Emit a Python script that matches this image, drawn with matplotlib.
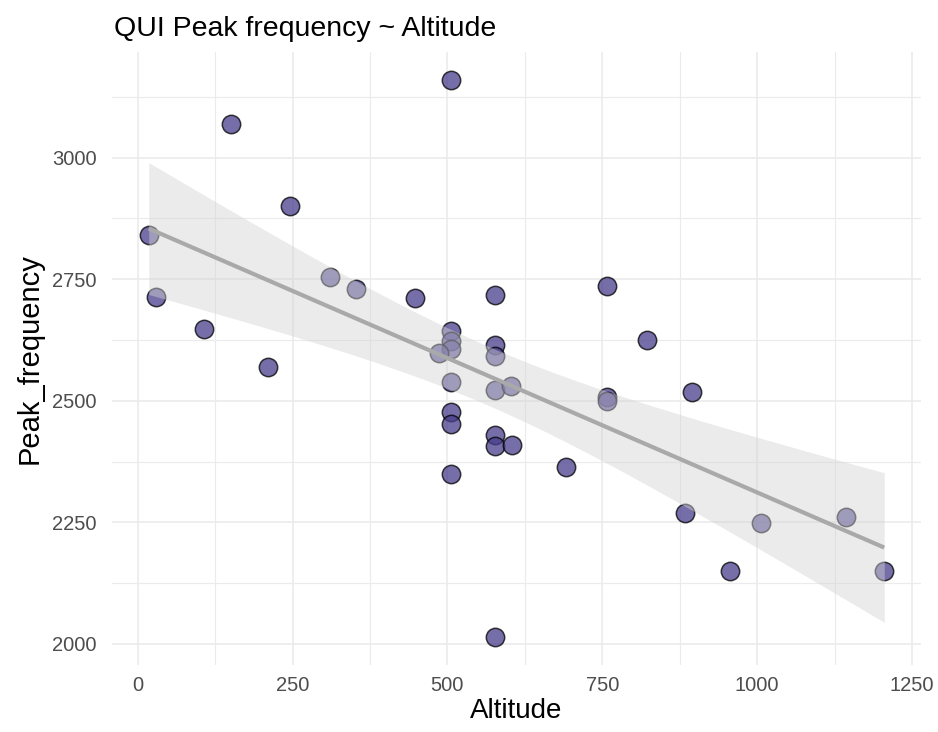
import numpy as np
import matplotlib
matplotlib.use("Agg")
import matplotlib.pyplot as plt
from matplotlib.ticker import MultipleLocator

# values
altitude = [505, 151, 246, 18, 29, 107, 211, 310, 352, 447,
            505, 505, 505, 486, 505, 505, 505, 505,
            576, 576, 576, 576, 603, 576, 576, 604, 576,
            691, 757, 757, 757, 822, 895, 884, 956, 1006, 1144, 1205]
peak_frequency = [3160, 3070, 2901, 2840, 2713, 2648, 2569, 2754, 2730, 2712,
                  2643, 2624, 2607, 2598, 2539, 2476, 2452, 2350,
                  2717, 2614, 2593, 2522, 2530, 2429, 2407, 2410, 2014,
                  2363, 2736, 2507, 2500, 2626, 2518, 2269, 2150, 2248, 2261, 2150]

title = "QUI Peak frequency ~ Altitude"
T_QUANTILE = 2.03  # 95% t value, df ~ 36

plt.rcParams['font.family'] = ['Liberation Sans', 'DejaVu Sans']

x = np.array(altitude, dtype=float)
y = np.array(peak_frequency, dtype=float)

# linear fit + confidence band (like geom_smooth(method="lm"))
slope, intercept = np.polyfit(x, y, 1)
n = len(x)
resid = y - (slope * x + intercept)
s = np.sqrt(np.sum(resid ** 2) / (n - 2))
sxx = np.sum((x - x.mean()) ** 2)
xs = np.linspace(x.min(), x.max(), 100)
ys = slope * xs + intercept
se = s * np.sqrt(1.0 / n + (xs - x.mean()) ** 2 / sxx)

W, H = 938, 732
fig = plt.figure(figsize=(W / 100, H / 100), dpi=100)
left, right, top, bottom = 112, 921, 52, 665
ax = fig.add_axes([left / W, 1 - bottom / H, (right - left) / W, (bottom - top) / H])

ax.scatter(x, y, s=175, c='#483D8B', edgecolors='black', linewidths=1.1,
           alpha=0.75, zorder=3)
ax.fill_between(xs, ys - T_QUANTILE * se, ys + T_QUANTILE * se,
                color='lightgrey', alpha=0.45, linewidth=0, zorder=4)
ax.plot(xs, ys, color='darkgrey', lw=3, zorder=5, solid_capstyle='butt')

# ggplot-like 5% expansion
xr = x.max() - x.min()
yr = y.max() - y.min()
ax.set_xlim(x.min() - 0.05 * xr, x.max() + 0.05 * xr)
ax.set_ylim(y.min() - 0.05 * yr, y.max() + 0.05 * yr)

ax.xaxis.set_major_locator(MultipleLocator(250))
ax.xaxis.set_minor_locator(MultipleLocator(125))
ax.yaxis.set_major_locator(MultipleLocator(250))
ax.yaxis.set_minor_locator(MultipleLocator(125))
ax.grid(which='major', color='#EBEBEB', lw=1.2, zorder=0)
ax.grid(which='minor', color='#EBEBEB', lw=0.8, zorder=0)
ax.set_axisbelow(True)
for sp in ax.spines.values():
    sp.set_visible(False)
ax.tick_params(which='both', length=0, labelsize=14.5, labelcolor='#4D4D4D')
ax.tick_params(axis='y', pad=11)
ax.tick_params(axis='x', pad=8)

ax.set_xlabel("Altitude", fontsize=20, color='black', labelpad=2)
ax.set_ylabel("Peak_frequency", fontsize=21, color='black', labelpad=6)
fig.text(left / W + 0.002, 1 - 29 / H, title, fontsize=20.5, ha='left', va='center')

fig.savefig("out.png", dpi=100)
